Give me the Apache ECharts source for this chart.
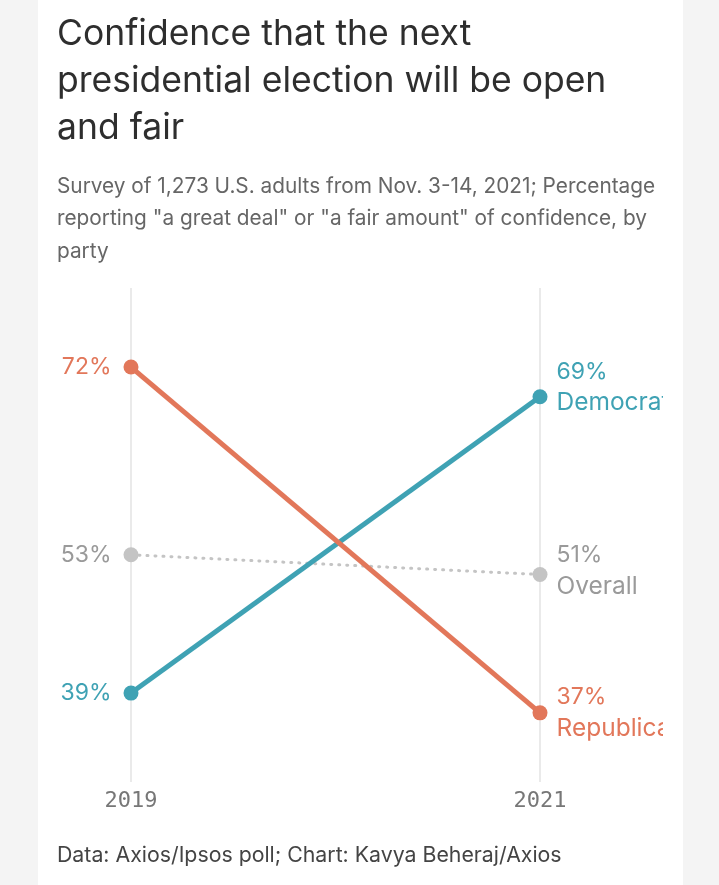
<!DOCTYPE html>
<html>
<head>
<meta charset="utf-8">
<script src="https://cdn.jsdelivr.net/npm/echarts@6/dist/echarts.min.js"></script>
<style>
  html, body { margin: 0; padding: 0; background: #f4f4f4; }
  #card { position: absolute; left: 38px; top: 0; width: 645px; height: 885px; background: #fff; }
  #main { position: absolute; left: 0; top: 0; width: 663px; height: 885px; }
</style>
</head>
<body>
<div id="card"></div>
<div id="main"></div>
<script>
var years = ["2019", "2021"];
var republicans = [72, 37];
var democrats = [39, 69];
var overall = [53, 51];
var seriesNames = ["Republicans", "Democrats", "Overall"];

var orange = "#e2775a";
var teal = "#3fa2b4";
var grey = "#c4c4c4";
var greyText = "#9a9a9a";
var font = "Inter";

function endLabels(name, color) {
  return {
    show: true,
    fontFamily: font,
    fontSize: 23,
    lineHeight: 31,
    color: color,
    formatter: function (p) {
      return p.dataIndex === 0 ? p.value + "%" : p.value + "%\n{n|" + name + "}";
    },
    rich: { n: { fontFamily: font, fontSize: 24.5, lineHeight: 31, color: color } }
  };
}

// first point labelled on the left, last point on the right
function pointData(values, offsetY) {
  return values.map(function (v, i) {
    if (i === 0) {
      return { value: v, label: { position: "left", distance: 12, align: "right" } };
    }
    return { value: v, label: { position: "right", distance: 9, align: "left", offset: [0, offsetY] } };
  });
}

var myChart = echarts.init(document.getElementById("main"));
myChart.setOption({
  animation: false,
  title: [
    {
      text: "Confidence that the next\npresidential election will be open\nand fair",
      left: 57,
      top: 11,
      padding: 0,
      textStyle: { fontFamily: font, fontWeight: "normal", fontSize: 35.5, lineHeight: 47, color: "#2e2e2e" }
    },
    {
      text: "Survey of 1,273 U.S. adults from Nov. 3-14, 2021; Percentage\nreporting \"a great deal\" or \"a fair amount\" of confidence, by\nparty",
      left: 57,
      top: 170,
      padding: 0,
      textStyle: { fontFamily: font, fontWeight: "normal", fontSize: 20.8, lineHeight: 32.5, color: "#666" }
    },
    {
      text: "Data: Axios/Ipsos poll; Chart: Kavya Beheraj/Axios",
      left: 57,
      top: 842,
      padding: 0,
      textStyle: { fontFamily: font, fontWeight: "normal", fontSize: 21.3, lineHeight: 28, color: "#444" }
    }
  ],
  grid: { left: 131, right: 123, top: 288, bottom: 103 },
  xAxis: {
    type: "category",
    data: years,
    boundaryGap: false,
    axisLine: { show: false },
    axisTick: { show: false },
    axisLabel: { fontFamily: "DejaVu Sans Mono", fontSize: 22, color: "#777", margin: 8 },
    splitLine: { show: true, lineStyle: { color: "#e3e3e3", width: 1.5 } }
  },
  yAxis: {
    type: "value",
    min: 30,
    max: 80,
    show: false
  },
  series: [
    {
      name: seriesNames[2],
      type: "line",
      data: pointData(overall, -3.5),
      symbol: "circle",
      symbolSize: 15,
      itemStyle: { color: grey },
      lineStyle: { color: grey, width: 3, type: [1, 7], cap: "round" },
      label: endLabels(seriesNames[2], greyText),
      z: 1
    },
    {
      name: seriesNames[1],
      type: "line",
      data: pointData(democrats, -9.5),
      symbol: "circle",
      symbolSize: 15,
      itemStyle: { color: teal },
      lineStyle: { color: teal, width: 5 },
      label: endLabels(seriesNames[1], teal),
      z: 2
    },
    {
      name: seriesNames[0],
      type: "line",
      data: pointData(republicans, 0),
      symbol: "circle",
      symbolSize: 15,
      itemStyle: { color: orange },
      lineStyle: { color: orange, width: 5 },
      label: endLabels(seriesNames[0], orange),
      z: 3
    }
  ]
});
</script>
</body>
</html>
